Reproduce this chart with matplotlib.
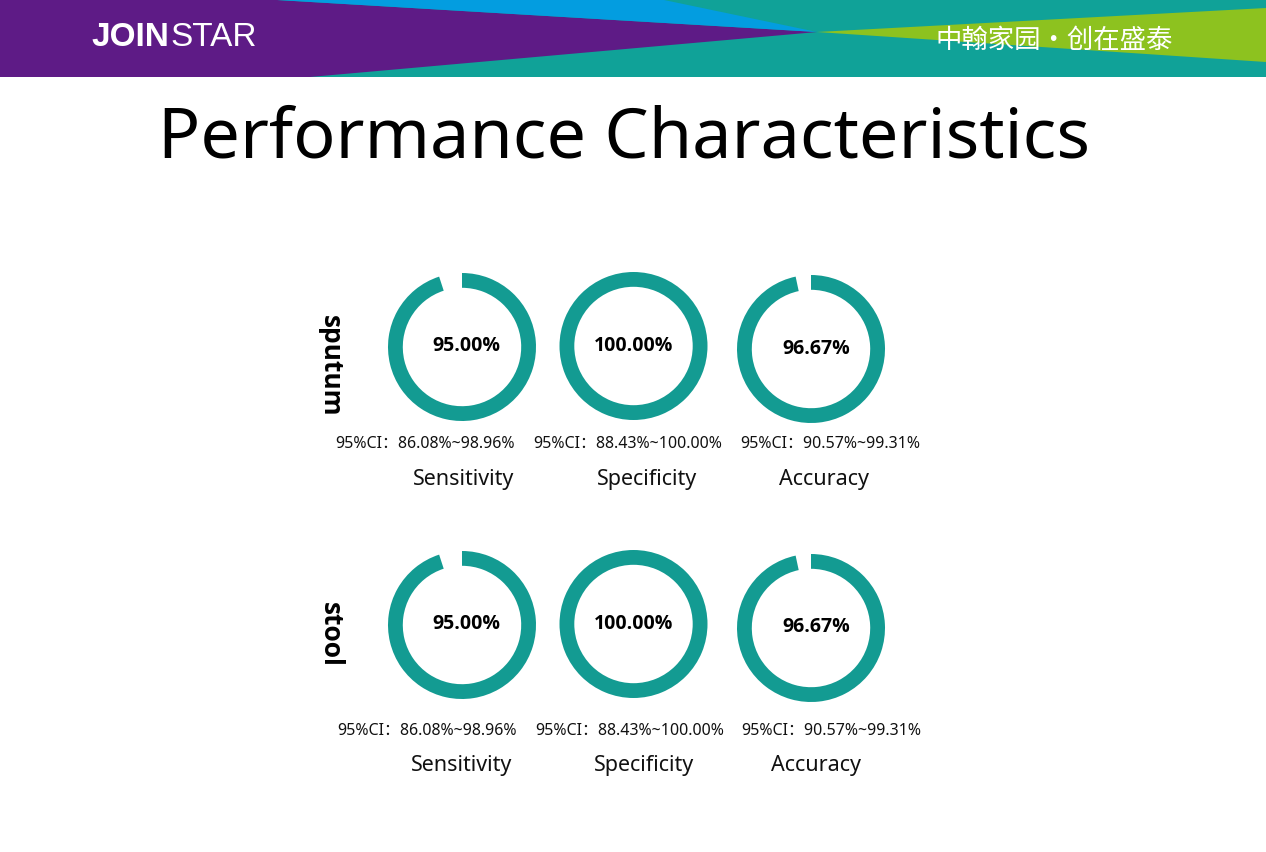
import matplotlib
matplotlib.use("Agg")
import matplotlib.pyplot as plt

# dados do slide
metrics = ["Sensitivity", "Specificity", "Accuracy"]
samples = ["sputum", "stool"]
sputum_values = [95.00, 100.00, 96.67]
stool_values = [95.00, 100.00, 96.67]
sputum_ci_low = [86.08, 88.43, 90.57]
sputum_ci_high = [98.96, 100.00, 99.31]
stool_ci_low = [86.08, 88.43, 90.57]
stool_ci_high = [98.96, 100.00, 99.31]

W, H = 1266, 852
TEAL = "#139b92"
PURPLE = "#5e1b86"
BLUE = "#039de0"
HEAD_TEAL = "#10a298"
GREEN = "#8dc21f"

fig = plt.figure(figsize=(W / 100, H / 100), dpi=100)
ax = fig.add_axes([0, 0, 1, 1])
ax.set_xlim(0, W)
ax.set_ylim(H, 0)
ax.axis("off")

# --- cabeçalho ---
band_h = 77
ax.fill([0, W, W, 0], [0, 0, band_h, band_h], color=HEAD_TEAL, lw=0)
ax.fill([817, W, W], [32, 8, 62], color=GREEN, lw=0)
ax.fill([0, 277, 817, 310, 0], [0, 0, 32, band_h, band_h], color=PURPLE, lw=0)
ax.fill([277, 664, 817], [0, 0, 32], color=BLUE, lw=0)

logo_font = ["Liberation Sans Narrow", "Liberation Sans", "DejaVu Sans"]
ax.text(91, 38, "JOIN", color="white", fontsize=24, fontweight="bold",
        family=logo_font, ha="left", va="center")
ax.text(170, 38, "STAR", color="white", fontsize=24,
        family=logo_font, ha="left", va="center")
ax.text(1054, 40, "中翰家园・创在盛泰", color="white", fontsize=19,
        family=["Noto Sans CJK SC", "DejaVu Sans"], fontweight="light",
        ha="center", va="center")

# --- título ---
ax.text(624, 158, "Performance Characteristics", fontsize=50.5,
        family=["Noto Sans", "DejaVu Sans"], ha="center", va="baseline")

# --- donuts ---
rows = [
    (sputum_values, sputum_ci_low, sputum_ci_high),
    (stool_values, stool_ci_low, stool_ci_high),
]
centers = [
    [(462, 347), (633.5, 346), (811, 349)],
    [(462, 625), (633.5, 624), (811, 628)],
]
pct_pos = [
    [(466, 346), (634, 346), (816, 349)],
    [(466, 624), (634, 624), (816, 627)],
]
ci_pos = [
    [(425, 444), (628, 444), (830, 444)],
    [(427, 731), (630, 731), (831, 731)],
]
label_pos = [
    [(464, 480), (647, 480), (824, 480)],
    [(462, 765), (644, 765), (816, 765)],
]
row_label_pos = [(330, 366), (330, 634)]
radius = 74

txt_font = ["Noto Sans", "Noto Sans CJK SC", "DejaVu Sans"]
bold_font = ["Open Sans", "DejaVu Sans"]

for r, (vals, lows, highs) in enumerate(rows):
    for i, v in enumerate(vals):
        cx, cy = centers[r][i]
        dax = fig.add_axes([(cx - radius) / W, 1 - (cy + radius) / H,
                            2 * radius / W, 2 * radius / H])
        dax.pie([v, 100 - v], startangle=90, counterclock=False,
                colors=[TEAL, "none"],
                wedgeprops=dict(width=0.2, linewidth=0))
        dax.set_xlim(-1, 1)
        dax.set_ylim(-1, 1)
        dax.axis("off")

        px, py = pct_pos[r][i]
        ax.text(px, py, f"{v:.2f}%", fontsize=14, fontweight="bold",
                family=bold_font, ha="center", va="center", zorder=5)

        qx, qy = ci_pos[r][i]
        ax.text(qx, qy, f"95%CI：{lows[i]:.2f}%~{highs[i]:.2f}%",
                fontsize=11.5, family=txt_font, ha="center", va="center",
                color="#111111")

        lx, ly = label_pos[r][i]
        ax.text(lx, ly, metrics[i], fontsize=15.5, family=txt_font,
                ha="center", va="center", color="#111111")

    rx, ry = row_label_pos[r]
    ax.text(rx, ry, samples[r], fontsize=19, fontweight="bold",
            family=bold_font, rotation=-90, ha="center", va="center")

fig.savefig("out.png", dpi=100)
